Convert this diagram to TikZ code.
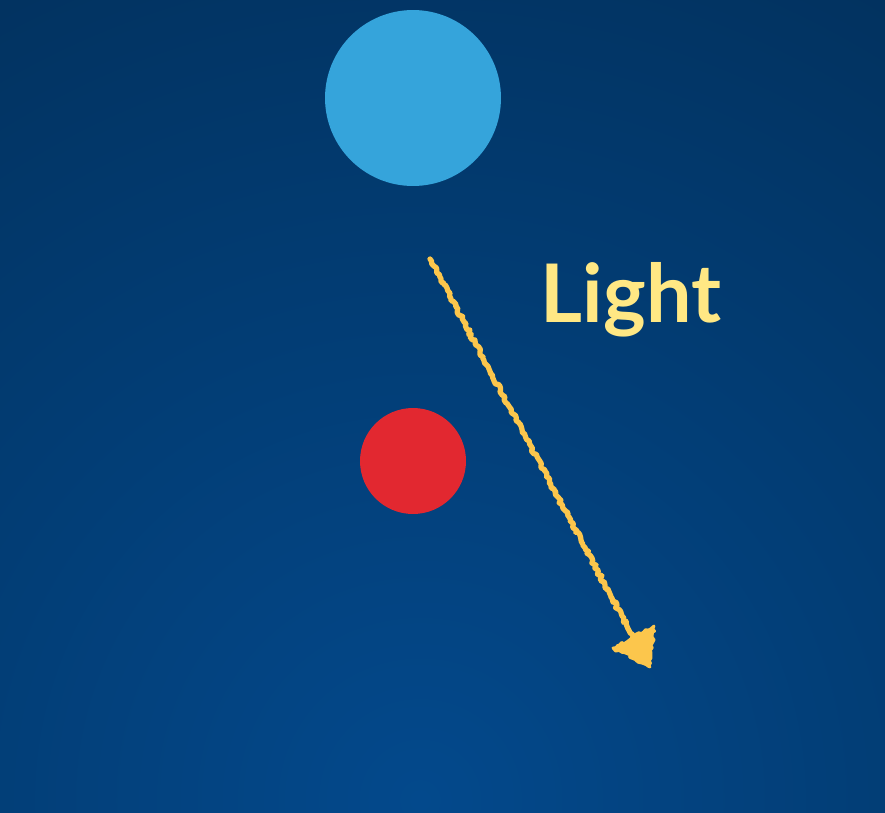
\documentclass[tikz,border=0pt]{standalone}
\usepackage{fontspec}
\newfontfamily\latofont{Lato}
\usepackage{xcolor}
\usetikzlibrary{positioning,decorations.pathmorphing}
\definecolor{fondhaut}{HTML}{012444}
\definecolor{fondbas}{HTML}{03498C}
\definecolor{bleuclair}{HTML}{35A4DB}
\definecolor{rouge}{HTML}{E22830}
\definecolor{craiejaune}{HTML}{FCC64C}
\definecolor{jaunepale}{HTML}{FFE884}
\pgfmathsetseed{7}

\begin{document}
\begin{tikzpicture}[
  x = 0.02cm, y = -0.02cm,
  astre/.style = {circle, inner sep=0pt},
  craie/.style = {draw=craiejaune, line width=3pt, line cap=round, line join=round,
                  decorate, decoration={random steps, segment length=1.4pt, amplitude=0.9pt}},
  titre/.style = {font=\latofont\bfseries\fontsize{46}{54}\selectfont, text=jaunepale}
]
\useasboundingbox (0,0) rectangle (885,812);
% fond
\begin{scope}
  \clip (0,0) rectangle (885,812);
  \shade[inner color=fondbas, outer color=fondhaut] (420,800) circle (1500);
\end{scope}
\node[astre, fill=bleuclair, minimum size=3.52cm] (soleil) at (413,98) {};
\node[astre, fill=rouge, minimum size=2.12cm] (balle) at (413,461) {};
\node[titre, anchor=base] (lumiere) at (631,322) {Light};
% fleche a la craie
\coordinate (depart) at (430,259);
\coordinate (bout)   at (633,637);
\coordinate (pointe) at (650,667);
\coordinate (aile1)  at (613,648);
\coordinate (aile2)  at (654,626);
\draw[craie] (depart) -- (bout);
\filldraw[craie, fill=craiejaune, line width=1.6pt] (aile1) -- (pointe) -- (aile2) -- cycle;
\end{tikzpicture}
\end{document}
